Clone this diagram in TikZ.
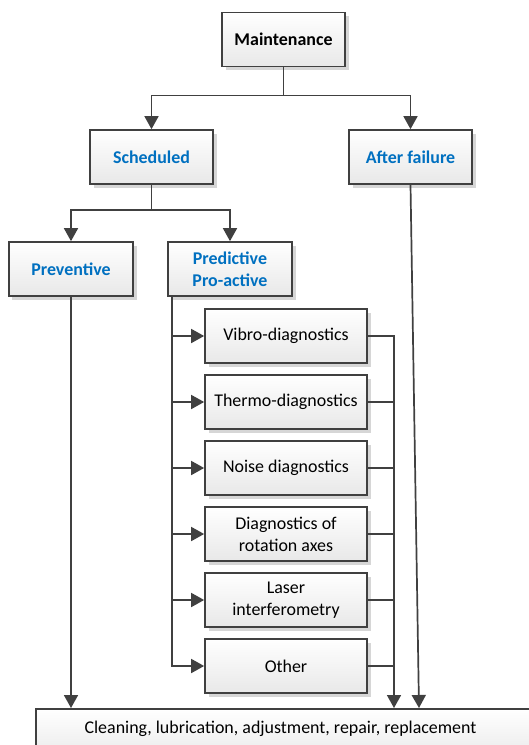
\documentclass[tikz,border=0pt]{standalone}
\usepackage{fontspec}
\setmainfont{Carlito}
\usetikzlibrary{arrows.meta,shadows}
\definecolor{edge}{HTML}{404040}
\definecolor{headblue}{HTML}{0070C0}
\definecolor{shade}{HTML}{D6D6D6}
\begin{document}
\begin{tikzpicture}[x=1bp,y=-1bp,
  box/.style={draw=edge, line width=1.7bp, inner sep=0pt, align=center,
    top color=white, bottom color=black!9,
    drop shadow={shadow xshift=3.5bp, shadow yshift=-3.5bp, fill=shade, opacity=1},
    font=\fontsize{18}{22}\selectfont},
  headbox/.style={box, minimum width=123bp, minimum height=54bp,
    font=\fontsize{18}{22.5}\selectfont\bfseries, text=headblue},
  subbox/.style={box, minimum width=162bp, minimum height=54bp},
  link/.style={draw=edge, line width=1.7bp},
  arrow/.style={link, -{Triangle[length=13bp,width=14bp]}}]

\useasboundingbox (0,0) rectangle (529,745);
\clip (0,0) rectangle (529,745);
\fill[white] (0,0) rectangle (529,745);

% top levels
\node[headbox, text=black] (main) at (283.5,39.5) {Maintenance};
\node[headbox] (sched) at (151.5,157) {Scheduled};
\node[headbox] (fail) at (410.5,157) {After failure};
\node[headbox, minimum width=124bp] (prev) at (71,269) {Preventive};
\node[headbox, minimum width=124bp] (pred) at (230,269) {Predictive\\Pro-active};

% diagnostic methods
\node[subbox] (vib) at (286,336) {Vibro-diagnostics};
\node[subbox] (thm) at (286,402) {Thermo-diagnostics};
\node[subbox] (noi) at (286,468) {Noise diagnostics};
\node[subbox] (rot) at (286,534) {Diagnostics of\\rotation axes};
\node[subbox] (las) at (286,600) {Laser\\interferometry};
\node[subbox] (oth) at (286,666) {Other};

% common works
\node[box, minimum width=520bp, minimum height=54bp, anchor=north west] (works) at (35,708) {};
\node[font=\fontsize{18}{22}\selectfont, inner sep=0pt] (worksText) at (280.5,729)
  {Cleaning, lubrication, adjustment, repair, replacement};

% connector ends
\coordinate (tk) at (172,296);
\coordinate (col) at (394,708);
\coordinate (failEnd) at (419,708);

% tree
\draw[arrow] (main.south) -- ++(0,28) -| (sched.north);
\draw[arrow] (main.south) -- ++(0,28) -| (fail.north);
\draw[arrow] (sched.south) -- ++(0,25) -| (prev.north);
\draw[arrow] (sched.south) -- ++(0,25) -| (pred.north);

% predictive branch feeds each method
\draw[arrow] (tk) |- (oth.west);
\foreach \n in {vib,thm,noi,rot,las}
  \draw[arrow] (tk |- \n.west) -- (\n.west);

% methods gather into the works box
\draw[arrow] (vib.east) -| (col);
\foreach \n in {thm,noi,rot,las,oth}
  \draw[link] (\n.east) -- (\n.east -| col);

\draw[arrow] (prev.south) -- (prev.south |- works.north);
\draw[arrow] (fail.south) -- (failEnd);
\end{tikzpicture}
\end{document}
